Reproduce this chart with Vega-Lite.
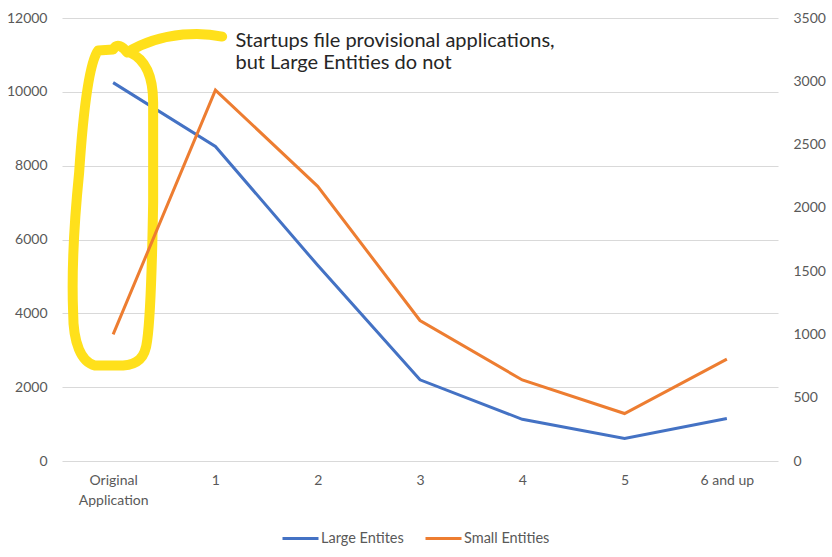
{
  "$schema": "https://vega.github.io/schema/vega-lite/v6.json",
  "width": 716,
  "height": 443,
  "autosize": "none",
  "padding": {"left": 62, "top": 18, "right": 54, "bottom": 96},
  "background": "white",
  "config": {
    "view": {"stroke": null},
    "font": "Lato"
  },
  "data": {
    "values": [
      {"category": "Original Application", "series": "Large Entites", "value": 10250},
      {"category": "1", "series": "Large Entites", "value": 8520},
      {"category": "2", "series": "Large Entites", "value": 5300},
      {"category": "3", "series": "Large Entites", "value": 2200},
      {"category": "4", "series": "Large Entites", "value": 1130},
      {"category": "5", "series": "Large Entites", "value": 610},
      {"category": "6 and up", "series": "Large Entites", "value": 1150},
      {"category": "Original Application", "series": "Small Entities", "value": 1000},
      {"category": "1", "series": "Small Entities", "value": 2930},
      {"category": "2", "series": "Small Entities", "value": 2170},
      {"category": "3", "series": "Small Entities", "value": 1110},
      {"category": "4", "series": "Small Entities", "value": 640},
      {"category": "5", "series": "Small Entities", "value": 375},
      {"category": "6 and up", "series": "Small Entities", "value": 805}
    ]
  },
  "layer": [
    {
      "layer": [
        {
          "transform": [{"filter": "datum.series === 'Large Entites'"}],
          "mark": {"type": "line", "strokeWidth": 3},
          "encoding": {
            "x": {
              "field": "category", "type": "nominal", "sort": null,
              "scale": {"domain": ["Original Application", "1", "2", "3", "4", "5", "6 and up"], "padding": 0.5},
              "axis": {
                "title": null, "labelAngle": 0, "domain": false, "ticks": false,
                "labelPadding": 12, "labelFontSize": 14, "labelColor": "#595959", "labelFont": "Lato",
                "labelLineHeight": 20,
                "labelExpr": "datum.value == 'Original Application' ? ['Original', 'Application'] : datum.value"
              }
            },
            "y": {
              "field": "value", "type": "quantitative",
              "scale": {"domain": [0, 12000], "nice": false},
              "axis": {
                "title": null, "values": [0, 2000, 4000, 6000, 8000, 10000, 12000], "format": "d",
                "grid": true, "gridColor": "#D9D9D9", "domain": false, "ticks": false,
                "labelPadding": 15, "labelFontSize": 14, "labelColor": "#595959", "labelFont": "Lato"
              }
            },
            "color": {
              "field": "series", "type": "nominal",
              "scale": {"domain": ["Large Entites", "Small Entities"], "range": ["#4472C4", "#ED7D31"]},
              "legend": {
                "title": null, "orient": "none", "legendX": 219, "legendY": 501, "direction": "horizontal",
                "symbolType": "stroke", "symbolSize": 1296, "symbolStrokeWidth": 3,
                "labelFontSize": 14.5, "labelColor": "#595959", "labelFont": "Lato",
                "columnPadding": 15, "labelOffset": 1
              }
            }
          }
        },
        {
          "data": {"values": [{}]},
          "mark": {
            "type": "point", "filled": false, "stroke": "#FFE01B", "strokeWidth": 10, "opacity": 1,
            "strokeCap": "round", "strokeJoin": "round", "size": 160000,
            "shape": "M0.085,-0.75 C0.15,-0.72 0.2,-0.65 0.2,-0.5 L0.2,0.0 C0.195,0.3 0.19,0.55 0.17,0.69 C0.16,0.78 0.12,0.81 0.05,0.815 L-0.09,0.815 C-0.16,0.8 -0.2,0.7 -0.2,0.55 C-0.21,0.3 -0.19,0.05 -0.17,-0.15 C-0.15,-0.45 -0.12,-0.7 -0.075,-0.76 L0.0,-0.765 C0.02,-0.8 0.05,-0.78 0.07,-0.75 C0.15,-0.8 0.25,-0.83 0.35,-0.84 C0.45,-0.85 0.5,-0.84 0.545,-0.83"
          },
          "encoding": {
            "x": {"datum": "Original Application"},
            "y": {"datum": 7000}
          }
        },
        {
          "data": {"values": [{}]},
          "mark": {
            "type": "text", "align": "left", "baseline": "top", "dx": 20,
            "fontSize": 20, "font": "Lato", "color": "#262626", "lineHeight": 22,
            "text": ["Startups file provisional applications,", "but Large Entities do not"]
          },
          "encoding": {
            "x": {"datum": "1"},
            "y": {"datum": 11650}
          }
        }
      ]
    },
    {
      "transform": [{"filter": "datum.series === 'Small Entities'"}],
      "mark": {"type": "line", "strokeWidth": 3},
      "encoding": {
        "x": {"field": "category", "type": "nominal", "sort": null},
        "y": {
          "field": "value", "type": "quantitative",
          "scale": {"domain": [0, 3500], "nice": false},
          "axis": {
            "title": null, "orient": "right", "values": [0, 500, 1000, 1500, 2000, 2500, 3000, 3500], "format": "d",
            "grid": false, "domain": false, "ticks": false,
            "labelPadding": 15, "labelFontSize": 14, "labelColor": "#595959", "labelFont": "Lato"
          }
        },
        "color": {"field": "series", "type": "nominal"}
      }
    }
  ],
  "resolve": {"scale": {"y": "independent"}}
}
